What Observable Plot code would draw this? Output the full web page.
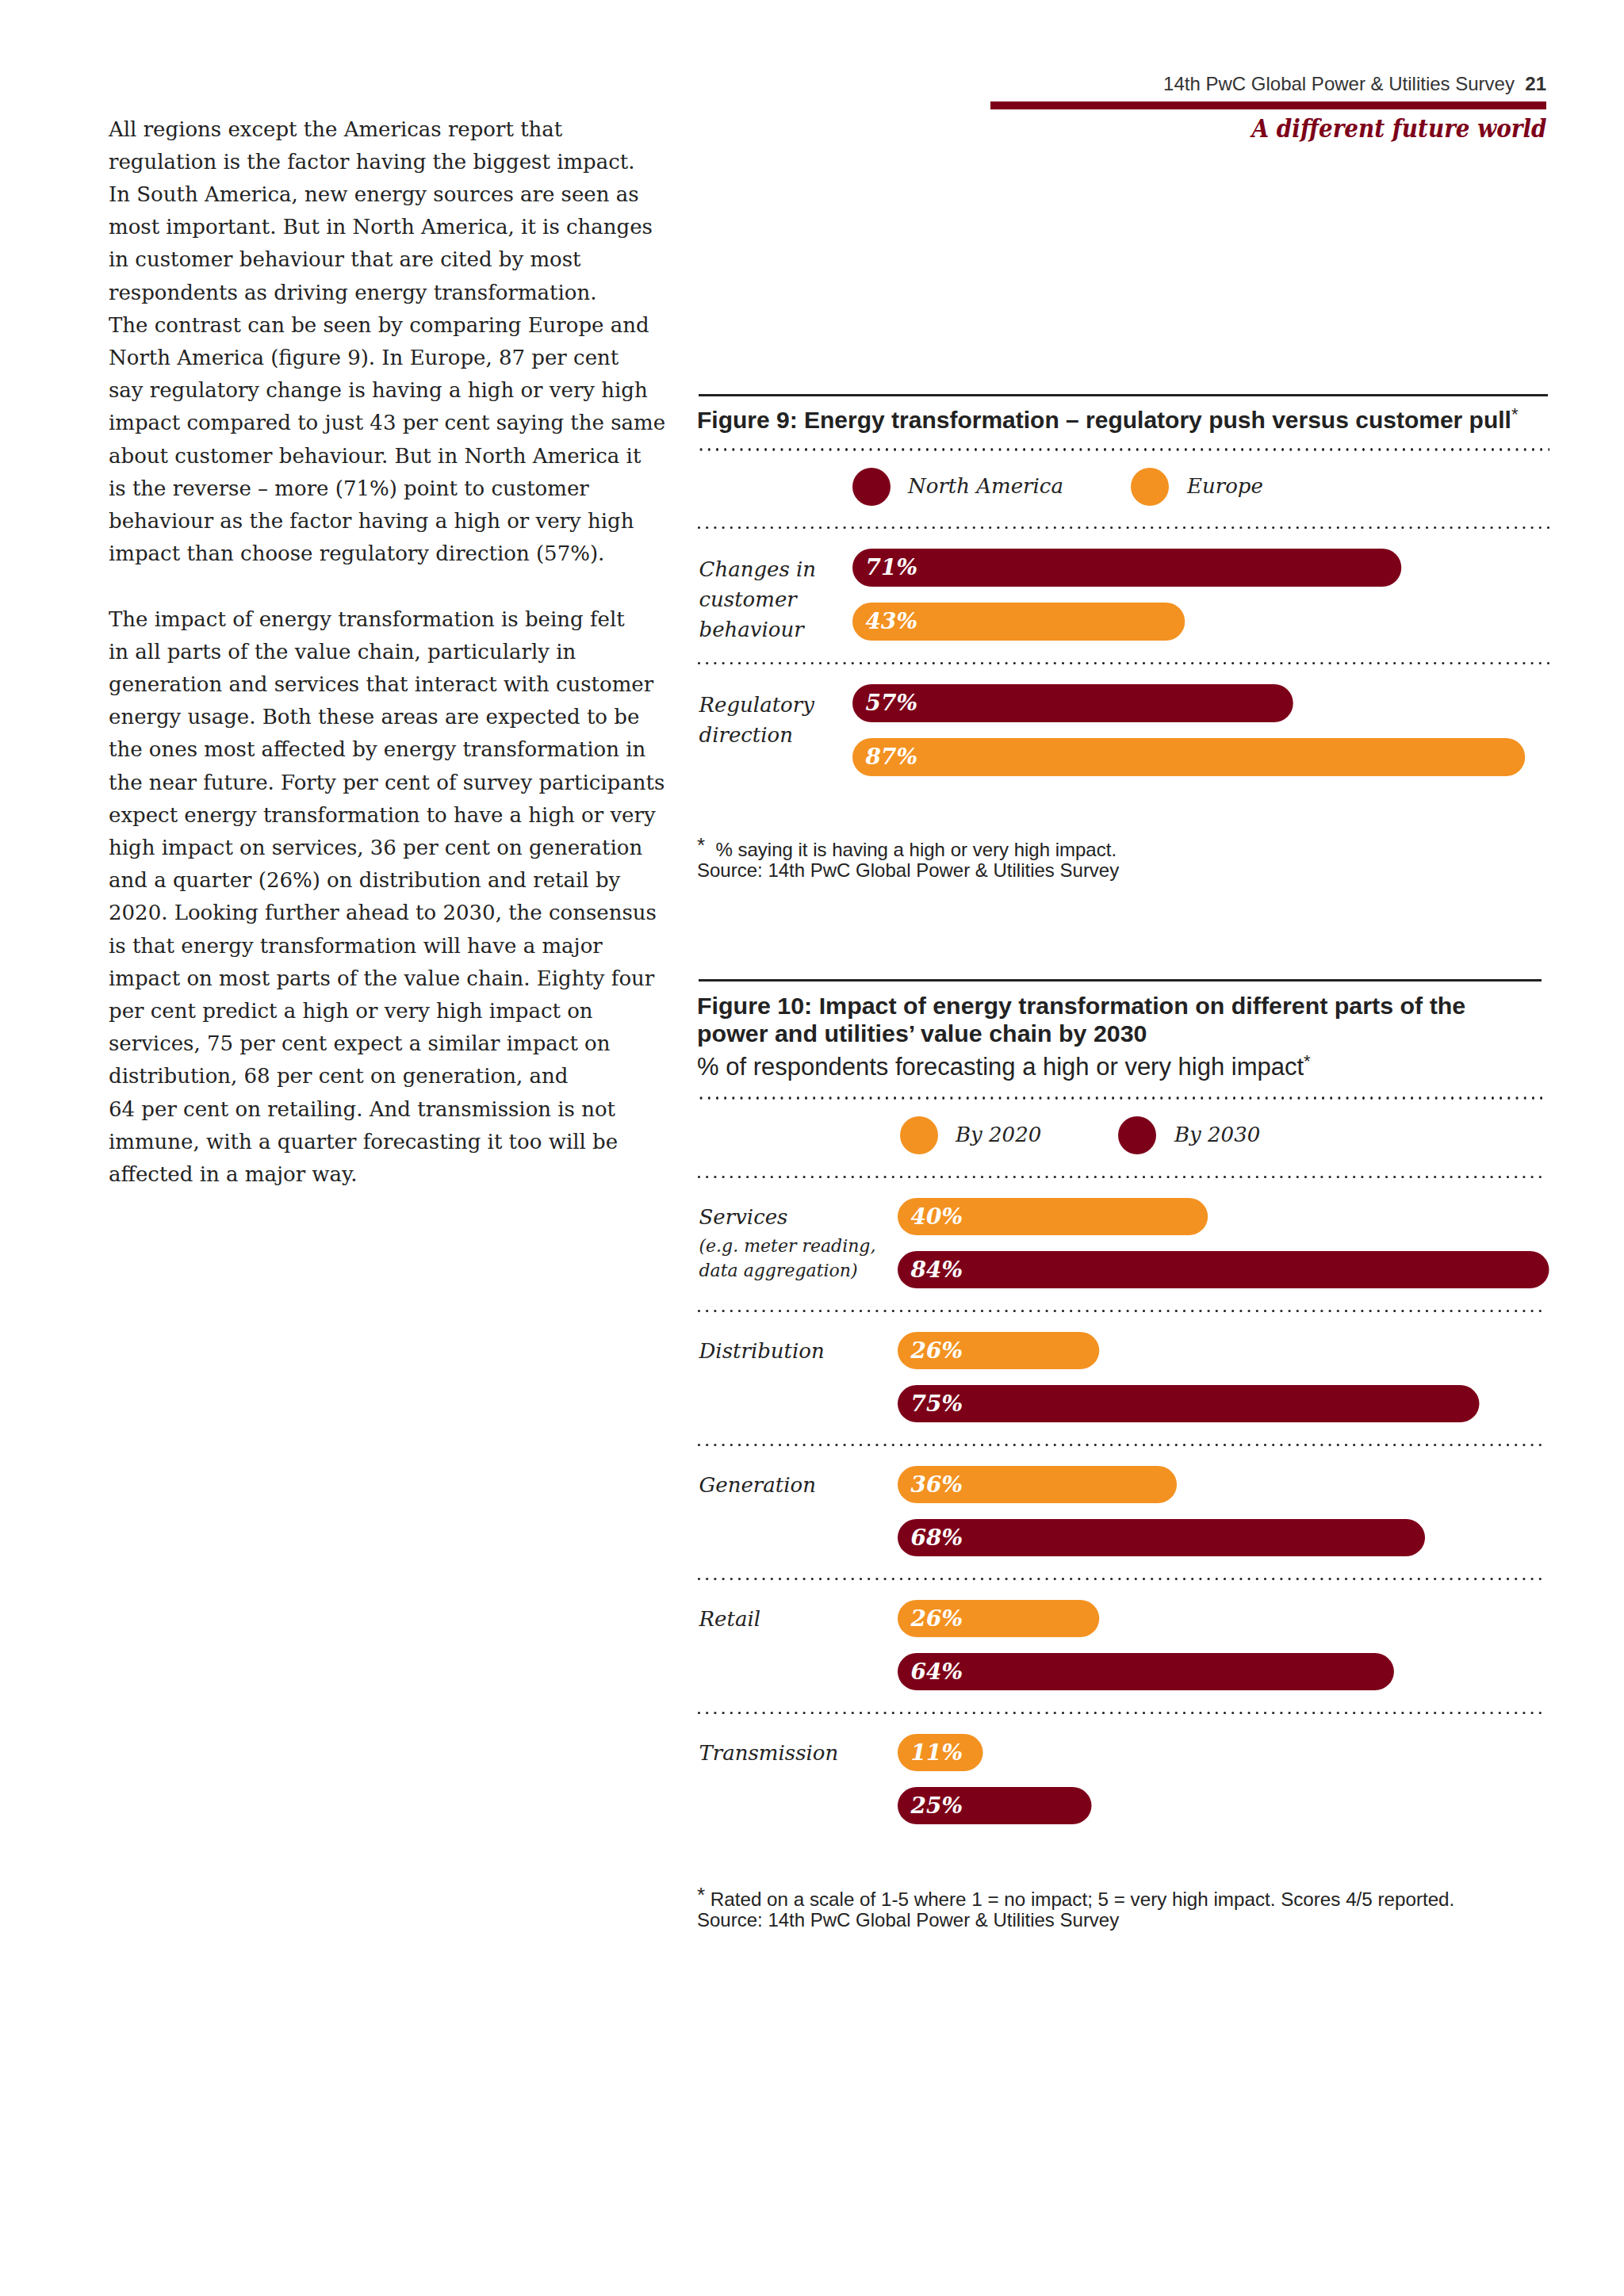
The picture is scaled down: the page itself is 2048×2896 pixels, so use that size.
<!DOCTYPE html>
<html>
<head>
<meta charset="utf-8">
<script src="https://cdn.jsdelivr.net/npm/d3@7"></script>
<script src="https://cdn.jsdelivr.net/npm/@observablehq/plot@0.6"></script>
<style>
  html, body { margin: 0; padding: 0; background: #fff; }
  #page { position: relative; width: 2048px; height: 2896px; overflow: hidden; background: #fff; }
  .t { position: absolute; white-space: nowrap; }
  .chart { position: absolute; }
  .chart svg { overflow: visible; }
</style>
</head>
<body>
<div id="page"></div>
<script>
// ---------------- DATA ----------------
const headerText = "14th PwC Global Power & Utilities Survey";
const pageNumber = "21";
const sectionTitle = "A different future world";

const bodyParagraph1 = [
  "All regions except the Americas report that",
  "regulation is the factor having the biggest impact.",
  "In South America, new energy sources are seen as",
  "most important. But in North America, it is changes",
  "in customer behaviour that are cited by most",
  "respondents as driving energy transformation.",
  "The contrast can be seen by comparing Europe and",
  "North America (figure 9). In Europe, 87 per cent",
  "say regulatory change is having a high or very high",
  "impact compared to just 43 per cent saying the same",
  "about customer behaviour. But in North America it",
  "is the reverse \u2013 more (71%) point to customer",
  "behaviour as the factor having a high or very high",
  "impact than choose regulatory direction (57%)."
];
const bodyParagraph2 = [
  "The impact of energy transformation is being felt",
  "in all parts of the value chain, particularly in",
  "generation and services that interact with customer",
  "energy usage. Both these areas are expected to be",
  "the ones most affected by energy transformation in",
  "the near future. Forty per cent of survey participants",
  "expect energy transformation to have a high or very",
  "high impact on services, 36 per cent on generation",
  "and a quarter (26%) on distribution and retail by",
  "2020. Looking further ahead to 2030, the consensus",
  "is that energy transformation will have a major",
  "impact on most parts of the value chain. Eighty four",
  "per cent predict a high or very high impact on",
  "services, 75 per cent expect a similar impact on",
  "distribution, 68 per cent on generation, and",
  "64 per cent on retailing. And transmission is not",
  "immune, with a quarter forecasting it too will be",
  "affected in a major way."
];

// Figure 9
const fig9Title = "Figure 9: Energy transformation \u2013 regulatory push versus customer pull";
const fig9Categories = ["Changes in customer behaviour", "Regulatory direction"];
const fig9CategoryLabels = ["Changes in\ncustomer\nbehaviour", "Regulatory\ndirection"];
const fig9Series = ["North America", "Europe"];
const fig9NorthAmerica = [71, 57];
const fig9Europe = [43, 87];
const fig9Note = "% saying it is having a high or very high impact.";
const fig9Source = "Source: 14th PwC Global Power & Utilities Survey";

// Figure 10
const fig10TitleLines = [
  "Figure 10: Impact of energy transformation on different parts of the",
  "power and utilities\u2019 value chain by 2030"
];
const fig10Subtitle = "% of respondents forecasting a high or very high impact*";
const fig10Categories = ["Services", "Distribution", "Generation", "Retail", "Transmission"];
const fig10SubLabels = ["(e.g. meter reading,\ndata aggregation)", "", "", "", ""];
const fig10Series = ["By 2020", "By 2030"];
const fig10By2020 = [40, 26, 36, 26, 11];
const fig10By2030 = [84, 75, 68, 64, 25];
const fig10Note = "Rated on a scale of 1-5 where 1 = no impact; 5 = very high impact. Scores 4/5 reported.";
const fig10Source = "Source: 14th PwC Global Power & Utilities Survey";

// ---------------- STYLE ----------------
const RED = "#7d0019";
const ORANGE = "#f39221";
const INK = "#222";
const SERIF = "'DejaVu Serif', 'Liberation Serif', serif";
const SANS = "'Liberation Sans', Arial, sans-serif";

const page = document.getElementById("page");

function addText(html, o) {
  const d = document.createElement("div");
  d.className = "t";
  d.innerHTML = html;
  const lh = o.lh || Math.round(o.size * 1.3);
  d.style.lineHeight = lh + "px";
  d.style.top = (o.cy - lh / 2) + "px";
  if (o.right != null) { d.style.right = (2048 - o.right) + "px"; d.style.textAlign = "right"; }
  else d.style.left = o.left + "px";
  d.style.fontSize = o.size + "px";
  d.style.fontFamily = o.family || SANS;
  d.style.fontWeight = o.weight || "normal";
  d.style.fontStyle = o.style || "normal";
  d.style.color = o.color || INK;
  if (o.ls != null) d.style.letterSpacing = o.ls + "px";
  if (o.sx != null) { d.style.transform = `scaleX(${o.sx})`; d.style.transformOrigin = o.right != null ? "right center" : "left center"; }
  page.appendChild(d);
  return d;
}
function addRule(left, top, width, height, color) {
  const d = document.createElement("div");
  d.style.cssText = `position:absolute;left:${left}px;top:${top}px;width:${width}px;height:${height}px;background:${color};`;
  page.appendChild(d);
}
function addDotted(left, cy, width) {
  const d = document.createElement("div");
  d.style.cssText = `position:absolute;left:${left - 2}px;top:${cy - 2}px;width:${width + 4}px;height:4px;` +
    `background-image:radial-gradient(circle, ${INK} 1.5px, transparent 1.9px);background-size:10.2px 4px;background-repeat:repeat-x;`;
  page.appendChild(d);
}
function addLegend(items, cy) {
  items.forEach(it => {
    const c = document.createElement("div");
    c.style.cssText = `position:absolute;left:${it.cx - 24}px;top:${cy - 24}px;width:48px;height:48px;border-radius:50%;background:${it.color};`;
    page.appendChild(c);
    addText(it.label, {left: it.lx, cy: cy - 1, size: 26, family: SERIF, style: "italic", color: INK, lh: 40});
  });
}
const star = (size, up) => `<span style="font-weight:normal;font-size:${size}px;vertical-align:${up}px">*</span>`;

// ---------------- PAGE HEADER ----------------
addText(headerText + '&nbsp;&nbsp;<b>' + pageNumber + '</b>', {right: 1950, cy: 105, size: 24, family: SANS, color: "#333"});
addRule(1249, 128, 701, 10, RED);
addText(sectionTitle, {right: 1950, cy: 162, size: 32, family: SERIF, weight: "bold", style: "italic", color: RED, sx: 0.87});

// ---------------- BODY TEXT ----------------
const allLines = [...bodyParagraph1, "", ...bodyParagraph2];
allLines.forEach((ln, i) => {
  if (!ln) return;
  addText(ln, {left: 137, cy: 162.5 + i * 41.2, size: 26, family: SERIF, color: "#222", lh: 40});
});

// ---------------- FIGURE 9 ----------------
addRule(881, 497, 1071, 3, INK);
addText(fig9Title + star(22, 10), {left: 879, cy: 522, size: 30, weight: "bold", family: SANS, color: INK});
addDotted(881, 567, 1071);
addLegend([
  {cx: 1099, lx: 1145, color: RED, label: fig9Series[0]},
  {cx: 1450, lx: 1497, color: ORANGE, label: fig9Series[1]}
], 614);

const fig9Data = fig9Categories.flatMap((c, i) => [
  {category: c, series: fig9Series[0], value: fig9NorthAmerica[i]},
  {category: c, series: fig9Series[1], value: fig9Europe[i]}
]);

const labelFont = {fontFamily: SERIF, fontStyle: "italic", fontSize: 26, fill: INK};
const valueFont = {fontFamily: SERIF, fontStyle: "italic", fontWeight: "bold", fontSize: 28, fill: "white"};

function bars(categories, series, colors, xRange, facetStep) {
  return {
    width: 1080,
    height: categories.length * facetStep + 4,
    marginTop: 4, marginBottom: 0, marginLeft: 0, marginRight: 9,
    x: {domain: [0, 100], range: xRange, axis: null},
    y: {domain: series, axis: null, paddingInner: 0.294, paddingOuter: 0.397},
    fy: {domain: categories, axis: null, padding: 0},
    color: {domain: series, range: colors},
    style: {overflow: "visible", background: "transparent"}
  };
}

const fig9 = Plot.plot({
  ...bars(fig9Categories, fig9Series, [RED, ORANGE], [194, 1169], 171),
  marks: [
    Plot.frame({anchor: "top", stroke: INK, strokeWidth: 3.2, strokeDasharray: "0 10.2", strokeLinecap: "round"}),
    Plot.barX(fig9Data, {x1: 0, x2: "value", y: "series", fy: "category", fill: "series", rx: 24}),
    Plot.text(fig9Data, {x: 0, y: "series", fy: "category", text: d => d.value + "%", textAnchor: "start", dx: 16, ...valueFont}),
    Plot.text(fig9Categories, {fy: d => d, y: () => fig9Series[0], text: (d, i) => fig9CategoryLabels[i],
      frameAnchor: "left", textAnchor: "start", lineAnchor: "top", lineHeight: 1.46, dy: -16, ...labelFont})
  ]
});
const c9 = document.createElement("div");
c9.className = "chart";
c9.style.left = "881px";
c9.style.top = (665 - 4) + "px";
c9.appendChild(fig9);
page.appendChild(c9);

addText(star(26, 5) + '&nbsp;&nbsp;' + fig9Note, {left: 879, cy: 1066, size: 24, family: SANS, color: INK});
addText(fig9Source, {left: 879, cy: 1097, size: 24, family: SANS, color: INK});

// ---------------- FIGURE 10 ----------------
addRule(881, 1235, 1063, 3, INK);
addText(fig10TitleLines[0], {left: 879, cy: 1268, size: 30.4, weight: "bold", family: SANS, color: INK});
addText(fig10TitleLines[1], {left: 879, cy: 1303, size: 30.4, weight: "bold", family: SANS, color: INK});
addText(fig10Subtitle.replace("*", star(22, 10)), {left: 879, cy: 1339, size: 31, family: SANS, color: INK});
addDotted(881, 1385, 1063);
addLegend([
  {cx: 1159, lx: 1205, color: ORANGE, label: fig10Series[0]},
  {cx: 1434, lx: 1481, color: RED, label: fig10Series[1]}
], 1432);

const fig10Data = fig10Categories.flatMap((c, i) => [
  {category: c, series: fig10Series[0], value: fig10By2020[i]},
  {category: c, series: fig10Series[1], value: fig10By2030[i]}
]);
const fig10Subs = fig10Categories.map((c, i) => ({category: c, sub: fig10SubLabels[i]})).filter(d => d.sub);

const fig10 = Plot.plot({
  ...bars(fig10Categories, fig10Series, [ORANGE, RED], [251, 1229], 169.5),
  width: 1072,
  marks: [
    Plot.frame({anchor: "top", stroke: INK, strokeWidth: 3.2, strokeDasharray: "0 10.2", strokeLinecap: "round"}),
    Plot.barX(fig10Data, {x1: 0, x2: "value", y: "series", fy: "category", fill: "series", rx: 24}),
    Plot.text(fig10Data, {x: 0, y: "series", fy: "category", text: d => d.value + "%", textAnchor: "start", dx: 16, ...valueFont}),
    Plot.text(fig10Categories, {fy: d => d, y: () => fig10Series[0], text: d => d,
      frameAnchor: "left", textAnchor: "start", lineAnchor: "top", lineHeight: 1.36, dy: -16, ...labelFont}),
    Plot.text(fig10Subs, {fy: "category", y: () => fig10Series[1], text: "sub",
      frameAnchor: "left", textAnchor: "start", lineAnchor: "bottom", lineHeight: 1.4, dy: 8,
      fontFamily: SERIF, fontStyle: "italic", fontSize: 22, fill: INK})
  ]
});
const c10 = document.createElement("div");
c10.className = "chart";
c10.style.left = "881px";
c10.style.top = (1483 - 4) + "px";
c10.appendChild(fig10);
page.appendChild(c10);

addText(star(26, 5) + '&nbsp;' + fig10Note, {left: 879, cy: 2390, size: 24.2, family: SANS, color: INK});
addText(fig10Source, {left: 879, cy: 2421, size: 24, family: SANS, color: INK});
</script>
</body>
</html>
